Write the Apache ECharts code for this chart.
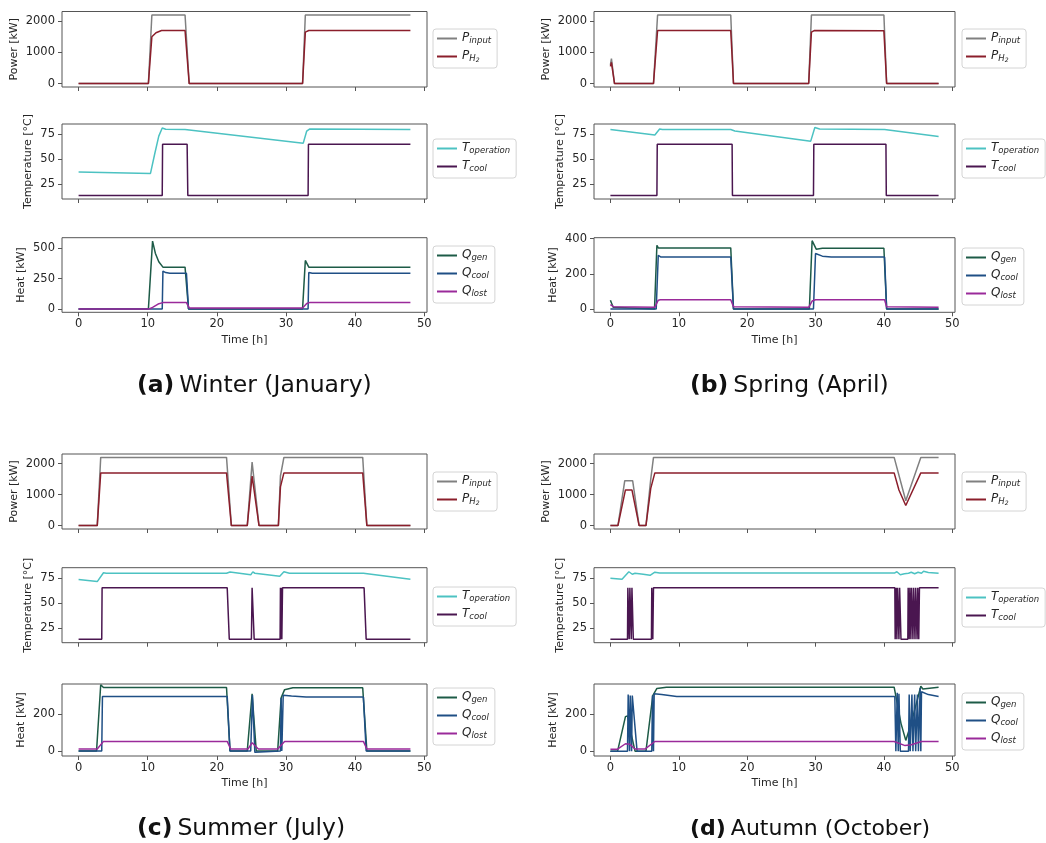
<!DOCTYPE html>
<html><head><meta charset="utf-8">
<script src="https://cdn.jsdelivr.net/npm/echarts@6/dist/echarts.min.js"></script>
<style>html,body{margin:0;padding:0;background:#fff}#c{width:1046px;height:843px}</style>
</head><body><div id="c"></div>
<script>
// ---------- DATA (time [h], value) ----------
const timeTicks = [0, 10, 20, 30, 40, 50];
const powerTicks = [0, 1000, 2000];
const tempTicks = [25, 50, 75];
const heatTicksWinter = [0, 250, 500];
const heatTicksSpring = [0, 200, 400];
const heatTicksSummer = [0, 200];
const heatTicksAutumn = [0, 200];

// (a) Winter
const winterPinput = [[0,0],[10.1,0],[10.6,2200],[15.4,2200],[16.0,0],[32.4,0],[32.8,2200],[48,2200]];
const winterPH2 = [[0,0],[10.1,0],[10.6,1500],[11.2,1630],[12.0,1700],[15.4,1700],[16.0,0],[32.4,0],[32.8,1650],[33.3,1700],[48,1700]];
const winterTop = [[0,37.5],[10.4,36],[11.0,55],[11.6,73],[12.1,81],[12.6,79.8],[15.4,79.5],[15.6,78.5],[32.5,66],[33.0,78],[33.4,80],[48,79.5]];
const winterTcool = [[0,14],[12.1,14],[12.15,65],[15.7,65],[15.8,14],[33.2,14],[33.25,65],[48,65]];
const winterQgen = [[0,0],[10.1,0],[10.7,560],[11.1,460],[11.6,390],[12.2,345],[15.4,345],[15.9,0],[32.4,0],[32.8,400],[33.3,345],[48,345]];
const winterQcool = [[0,0],[12.1,0],[12.2,312],[12.6,300],[13.2,295],[15.6,295],[15.9,0],[33.2,0],[33.3,300],[33.8,295],[48,295]];
const winterQlost = [[0,0],[10.2,0],[10.7,12],[11.5,40],[12.2,52],[15.6,52],[16.0,8],[32.4,8],[33.0,45],[33.4,52],[48,52]];

// (b) Spring
const springPinput = [[0,600],[0.15,800],[0.6,0],[6.3,0],[6.9,2200],[17.6,2200],[18.0,0],[29.0,0],[29.4,2200],[40.0,2200],[40.4,0],[48,0]];
const springPH2 = [[0,550],[0.15,680],[0.6,0],[6.3,0],[6.9,1700],[17.6,1700],[18.0,0],[29.0,0],[29.4,1650],[29.8,1700],[40.0,1690],[40.4,0],[48,0]];
const springTop = [[0,79.5],[6.5,74],[7.2,80],[7.6,79.5],[17.6,79.5],[18.2,78],[29.3,68],[29.9,81.5],[30.6,80],[40.1,79.5],[48,72.7]];
const springTcool = [[0,14],[6.8,14],[6.85,65],[17.8,65],[17.85,14],[29.7,14],[29.75,65],[40.3,65],[40.35,14],[48,14]];
const springQgen = [[0,50],[0.1,52],[0.4,10],[0.6,0],[6.45,0],[6.8,362],[7.0,347],[17.6,347],[18.0,0],[29.1,0],[29.5,388],[30.1,340],[31,345],[40.0,345],[40.4,0],[48,0]];
const springQcool = [[0,0],[6.7,0],[7.0,305],[7.4,295],[17.6,295],[18.0,0],[29.7,0],[30.0,315],[31,300],[32.3,295],[40.1,295],[40.4,0],[48,0]];
const springQlost = [[0,25],[0.5,12],[6.5,10],[7.0,50],[7.3,52],[17.6,52],[18.0,12],[29.0,9],[29.5,45],[30.0,52],[40.1,52],[40.4,12],[48,10]];

// (c) Summer
const summerPinput = [[0,0],[2.7,0],[3.2,2200],[21.4,2200],[22.1,0],[24.4,0],[25.1,2050],[26.1,0],[28.9,0],[29.2,1600],[29.7,2200],[41.1,2200],[41.7,0],[48,0]];
const summerPH2 = [[0,0],[2.7,0],[3.2,1700],[21.4,1700],[22.1,0],[24.4,0],[25.1,1600],[26.1,0],[28.9,0],[29.2,1250],[29.7,1700],[41.1,1700],[41.7,0],[48,0]];
const summerTop = [[0,73.4],[2.7,71.2],[3.6,80],[4.0,79.5],[21.4,79.5],[21.9,80.8],[24.9,77.9],[25.2,80.8],[25.5,79.5],[29.1,76.6],[29.7,81],[30.5,79.5],[41.2,79.5],[48,73.5]];
const summerTcool = [[0,14],[3.35,14],[3.4,65],[21.5,65],[21.8,14],[25.0,14],[25.1,65],[25.4,14],[29.15,14],[29.2,65],[29.25,14],[29.35,65],[29.4,14],[29.5,65],[41.3,65],[41.6,14],[48,14]];
const summerQgen = [[0,0],[2.6,0],[3.2,362],[3.6,347],[21.4,347],[21.9,0],[24.4,0],[25.1,312],[25.7,0],[28.8,0],[29.3,290],[29.8,335],[31,345],[41.1,345],[41.7,0],[48,0]];
const summerQcool = [[0,0],[3.35,0],[3.45,298],[21.5,298],[21.9,0],[24.9,0],[25.15,305],[25.5,-8],[25.7,0],[29.2,0],[29.3,290],[29.4,0],[29.6,305],[29.8,310],[30.8,300],[32.9,295],[41.2,295],[41.6,0],[48,0]];
const summerQlost = [[0,10],[2.7,10],[3.6,52],[21.5,52],[22.0,10],[24.5,10],[25.1,45],[26.0,10],[28.8,10],[29.8,52],[41.2,52],[41.7,10],[48,10]];

// (d) Autumn
const autumnPinput = [[0,0],[1.1,0],[2.1,1450],[3.25,1450],[4.2,0],[5.2,0],[5.9,1500],[6.3,2200],[41.5,2200],[43.2,800],[45.4,2200],[48,2200]];
const autumnPH2 = [[0,0],[1.1,0],[2.2,1150],[3.15,1150],[4.2,0],[5.2,0],[5.9,1200],[6.5,1700],[41.5,1700],[42.2,1150],[43.2,650],[45.4,1700],[48,1700]];
const autumnTop = [[0,74.5],[1.7,73.5],[2.7,81],[3.2,78.5],[3.6,79.5],[4.8,78.5],[5.8,77.5],[6.5,80.5],[7.2,79.8],[41.6,79.8],[41.9,81],[42.4,78],[43.0,79],[43.6,79.5],[44.0,80.5],[44.5,79],[45.0,80.5],[45.5,79.5],[45.8,81.5],[46.5,80.3],[48,79.5]];
const autumnTcool = [[0,14],[2.5,14],[2.55,65],[2.75,14],[2.85,65],[3.05,14],[3.15,65],[3.35,14],[6.0,14],[6.05,65],[6.2,14],[6.3,65],[41.6,65],[41.65,14],[41.8,65],[41.9,14],[42.0,65],[42.2,14],[42.3,65],[42.5,14],[43.5,14],[43.55,65],[43.7,14],[43.8,65],[43.95,14],[44.05,65],[44.25,14],[44.35,65],[44.55,14],[44.65,65],[44.85,14],[44.95,65],[45.1,14],[45.2,65],[48,65]];
const autumnQgen = [[0,0],[1.05,0],[2.2,186],[2.5,190],[3.0,100],[3.6,0],[5.2,0],[6.2,300],[6.8,338],[8.2,345],[41.5,345],[42.5,150],[43.2,58],[44.0,150],[45.4,350],[45.7,335],[48,345]];
const autumnQcool = [[0,0],[2.5,0],[2.6,305],[2.8,0],[2.9,300],[3.1,0],[3.2,300],[3.9,0],[6.05,0],[6.15,300],[6.3,0],[6.4,310],[6.5,320],[7.5,305],[9.7,295],[41.6,295],[41.75,0],[41.95,315],[42.1,0],[42.2,310],[42.4,0],[43.6,0],[43.7,305],[43.85,0],[44.1,305],[44.25,0],[44.5,305],[44.65,0],[44.9,305],[45.05,0],[45.3,340],[45.4,0],[45.5,320],[46.5,305],[48,295]];
const autumnQlost = [[0,10],[1.0,10],[2.2,40],[2.8,38],[3.6,12],[5.1,12],[6.5,52],[41.5,52],[43.1,30],[44,35],[45.5,52],[48,52]];

// ---------- LAYOUT / STYLE ----------
const FONT = 'DejaVu Sans';
const TXT = '#262626';
const AX = '#555';
const defs = {
  Pin:   {color:'#808080', label:'{m|P}{s|input}'},
  PH2:   {color:'#8b1e2b', label:'{m|P}{s|H}{ss|2}'},
  Top:   {color:'#4cc2c2', label:'{m|T}{s|operation}'},
  Tcool: {color:'#4a1650', label:'{m|T}{s|cool}'},
  Qgen:  {color:'#1d5b47', label:'{m|Q}{s|gen}'},
  Qcool: {color:'#1f4f85', label:'{m|Q}{s|cool}'},
  Qlost: {color:'#9a2a9a', label:'{m|Q}{s|lost}'}
};
const panels = [
  {k:'a', cap:'(a)', capText:'Winter (January)', capLeft:137, capTop:374, capSize:23.5,
   left:62, width:365, tops:[11.5,124,237.7], heights:[75.5,75,74.6], legLeft:433, legTops:[29,139,246],
   P:[winterPinput,winterPH2], T:[winterTop,winterTcool], Q:[winterQgen,winterQcool,winterQlost],
   heatTicks:heatTicksWinter, heatRange:[-28,588]},
  {k:'b', cap:'(b)', capText:'Spring (April)', capLeft:690, capTop:374, capSize:23.5,
   left:594, width:361, tops:[11.5,124,237.7], heights:[75.5,75,74.6], legLeft:962, legTops:[29,139,248],
   P:[springPinput,springPH2], T:[springTop,springTcool], Q:[springQgen,springQcool,springQlost],
   heatTicks:heatTicksSpring, heatRange:[-19,405]},
  {k:'c', cap:'(c)', capText:'Summer (July)', capLeft:137, capTop:817, capSize:23.5,
   left:62, width:365, tops:[454,567.7,684], heights:[75,75,72], legLeft:433, legTops:[472,587,688],
   P:[summerPinput,summerPH2], T:[summerTop,summerTcool], Q:[summerQgen,summerQcool,summerQlost],
   heatTicks:heatTicksSummer, heatRange:[-28,366]},
  {k:'d', cap:'(d)', capText:'Autumn (October)', capLeft:690, capTop:818, capSize:22,
   left:594, width:361, tops:[454,567.7,684], heights:[75,75,72], legLeft:962, legTops:[472,588,693],
   P:[autumnPinput,autumnPH2], T:[autumnTop,autumnTcool], Q:[autumnQgen,autumnQcool,autumnQlost],
   heatTicks:heatTicksAutumn, heatRange:[-26,362]}
];
const rows = [
  {key:'P', names:['Pin','PH2'], yName:'Power [kW]', ticks:powerTicks, range:[-110,2310], gap:42},
  {key:'T', names:['Top','Tcool'], yName:'Temperature [°C]', ticks:tempTicks, range:[10.6,85], gap:28},
  {key:'Q', names:['Qgen','Qcool','Qlost'], yName:'Heat [kW]', ticks:null, range:null, gap:35}
];

const grid=[], xAxis=[], yAxis=[], series=[], legend=[], title=[];
const rich = {
  m:{fontFamily:FONT, fontStyle:'italic', fontSize:12, color:TXT, lineHeight:13, padding:[0,0,4,0], verticalAlign:'top'},
  s:{fontFamily:FONT, fontStyle:'italic', fontSize:8.5, color:TXT, lineHeight:10, verticalAlign:'bottom'},
  ss:{fontFamily:FONT, fontStyle:'italic', fontSize:6, color:TXT, lineHeight:6, verticalAlign:'bottom'}
};
const plain = v => String(v);
panels.forEach(p => {
  title.push({text:'{b|'+p.cap+'} {r|'+p.capText+'}', left:p.capLeft, top:p.capTop, padding:0,
    textStyle:{fontWeight:'normal',
      rich:{b:{fontFamily:'DejaVu Sans', fontWeight:'bold', fontSize:p.capSize, color:'#111'},
            r:{fontFamily:'DejaVu Sans', fontWeight:'normal', fontSize:p.capSize, color:'#111'}}}});
  rows.forEach((r, ri) => {
    const gi = grid.length;
    const bottom = ri === 2;
    grid.push({left:p.left, top:p.tops[ri], width:p.width, height:p.heights[ri], show:true,
      borderColor:AX, borderWidth:1, backgroundColor:'#fff'});
    xAxis.push({type:'value', gridIndex:gi, min:-2.4, max:50.4,
      axisLine:{show:false, onZero:false},
      axisTick:{show:true, customValues:timeTicks, length:4, lineStyle:{color:AX}},
      axisLabel:{show:bottom, customValues:timeTicks, formatter:plain, fontFamily:FONT, fontSize:11.5, color:TXT, margin:6},
      splitLine:{show:false},
      name: bottom ? 'Time [h]' : '', nameLocation:'middle', nameGap:22,
      nameTextStyle:{fontFamily:FONT, fontSize:11, color:TXT}});
    const ticks = r.ticks || p.heatTicks;
    const range = r.range || p.heatRange;
    yAxis.push({type:'value', gridIndex:gi, min:range[0], max:range[1],
      axisLine:{show:false, onZero:false},
      axisTick:{show:true, customValues:ticks, length:4, lineStyle:{color:AX}},
      axisLabel:{customValues:ticks, formatter:plain, fontFamily:FONT, fontSize:11.5, color:TXT, margin:7},
      splitLine:{show:false},
      name:r.yName, nameLocation:'middle', nameGap:r.gap, nameRotate:90,
      nameTextStyle:{fontFamily:FONT, fontSize:11, color:TXT}});
    const data = p[r.key];
    const names = [];
    r.names.forEach((n, si) => {
      const nm = p.k + '|' + n;
      names.push(nm);
      series.push({type:'line', name:nm, xAxisIndex:gi, yAxisIndex:gi, data:data[si],
        symbol:'none', showSymbol:false, color:defs[n].color,
        lineStyle:{width:1.5, color:defs[n].color}, z:2+si});
    });
    legend.push({orient:'vertical', left:p.legLeft, top:p.legTops[ri], data:names,
      icon:'rect', itemWidth:20, itemHeight:2, itemGap:2, padding:[3,6,2,4],
      backgroundColor:'#fff', borderColor:'#d4d4d4', borderWidth:1, borderRadius:3,
      selectedMode:false, formatter:(nm)=>defs[nm.split('|')[1]].label,
      textStyle:{rich:rich}});
  });
});

const chart = echarts.init(document.getElementById('c'), null, {renderer:'canvas'});
chart.setOption({animation:false, backgroundColor:'#fff', title, grid, xAxis, yAxis, legend, series});
</script>
</body></html>
